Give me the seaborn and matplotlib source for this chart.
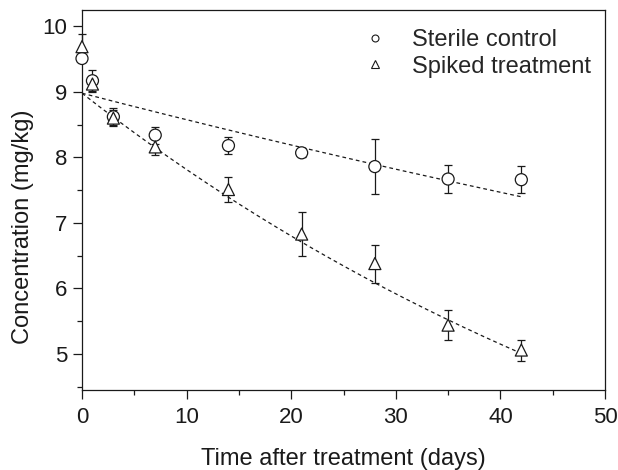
import numpy as np
import pandas as pd
import matplotlib
matplotlib.use("Agg")
import matplotlib.pyplot as plt
import seaborn as sns
from matplotlib.lines import Line2D

# Data
days = [0, 1, 3, 7, 14, 21, 28, 35, 42]
sterile_mean = [9.51, 9.17, 8.62, 8.34, 8.18, 8.07, 7.86, 7.67, 7.66]
sterile_err = [0.05, 0.16, 0.13, 0.13, 0.13, 0.07, 0.42, 0.21, 0.21]
spiked_mean = [9.69, 9.12, 8.60, 8.16, 7.51, 6.83, 6.38, 5.44, 5.06]
spiked_err = [0.19, 0.12, 0.12, 0.13, 0.19, 0.34, 0.29, 0.23, 0.16]
series_names = ["Sterile control", "Spiked treatment"]

# First-order decay fit parameters
sterile_fit_c0, sterile_fit_k = 8.98, 0.00461
spiked_fit_c0, spiked_fit_k = 8.98, 0.0139
fit_days = np.linspace(0, 42, 200)

sns.set_style("ticks")
plt.rcParams['font.family'] = ['Liberation Sans', 'DejaVu Sans']

fig = plt.figure(figsize=(6.18, 4.70), dpi=100)
ax = fig.add_axes([82 / 618, 1 - 390 / 470, (605 - 82) / 618, (390 - 10) / 470])

ink = "#1a1a1a"

fit_df = pd.DataFrame({
    "t": np.concatenate([fit_days, fit_days]),
    "c": np.concatenate([sterile_fit_c0 * np.exp(-sterile_fit_k * fit_days),
                         spiked_fit_c0 * np.exp(-spiked_fit_k * fit_days)]),
    "series": ["Sterile fit"] * len(fit_days) + ["Spiked fit"] * len(fit_days),
})
sns.lineplot(data=fit_df, x="t", y="c", units="series", estimator=None,
             color=ink, lw=0.9, ax=ax, legend=False,
             linestyle=(0, (3, 2.5)))

ax.errorbar(days, sterile_mean, yerr=sterile_err, fmt="none", ecolor=ink,
            elinewidth=0.9, capsize=3.2, capthick=0.9, clip_on=False, zorder=3)
ax.errorbar(days, spiked_mean, yerr=spiked_err, fmt="none", ecolor=ink,
            elinewidth=0.9, capsize=3.2, capthick=0.9, clip_on=False, zorder=3)

pts = pd.DataFrame({
    "t": days + days,
    "c": sterile_mean + spiked_mean,
    "series": [series_names[0]] * len(days) + [series_names[1]] * len(days),
})
sns.scatterplot(data=pts, x="t", y="c", style="series",
                markers={series_names[0]: "o", series_names[1]: "^"},
                s=75, facecolor="white", edgecolor=ink, linewidth=0.9,
                ax=ax, zorder=4, clip_on=False, legend=False)

handles = [
    Line2D([], [], marker="o", ls="none", mfc="white", mec=ink, mew=0.8, ms=5),
    Line2D([], [], marker="^", ls="none", mfc="white", mec=ink, mew=0.8, ms=6),
]
ax.legend(handles, series_names, loc="upper left",
          bbox_to_anchor=(0.537, 0.95), frameon=False, fontsize=17,
          handletextpad=1.08, labelspacing=0.2, handlelength=1.0,
          borderpad=0, borderaxespad=0)

ax.set_xlim(0, 50)
ax.set_ylim(4.45, 10.25)
ax.set_xticks([0, 10, 20, 30, 40, 50])
ax.set_xticks([5, 15, 25, 35, 45], minor=True)
ax.set_yticks([5, 6, 7, 8, 9, 10])
ax.set_yticks([4.5, 5.5, 6.5, 7.5, 8.5, 9.5], minor=True)
ax.tick_params(axis="both", which="major", direction="out", length=6.5, width=0.9,
               colors=ink, labelsize=16, pad=4)
ax.tick_params(axis="x", which="major", pad=6)
ax.tick_params(axis="both", which="minor", direction="out", length=3.5, width=0.9,
               colors=ink)
for sp in ax.spines.values():
    sp.set_linewidth(0.9)
    sp.set_color(ink)

ax.set_xlabel("Time after treatment (days)", fontsize=17, color=ink, labelpad=14)
ax.set_ylabel("Concentration (mg/kg)", fontsize=17, color=ink)
ax.yaxis.set_label_coords(-0.092, 0.43)

fig.savefig("out.png", dpi=100)
